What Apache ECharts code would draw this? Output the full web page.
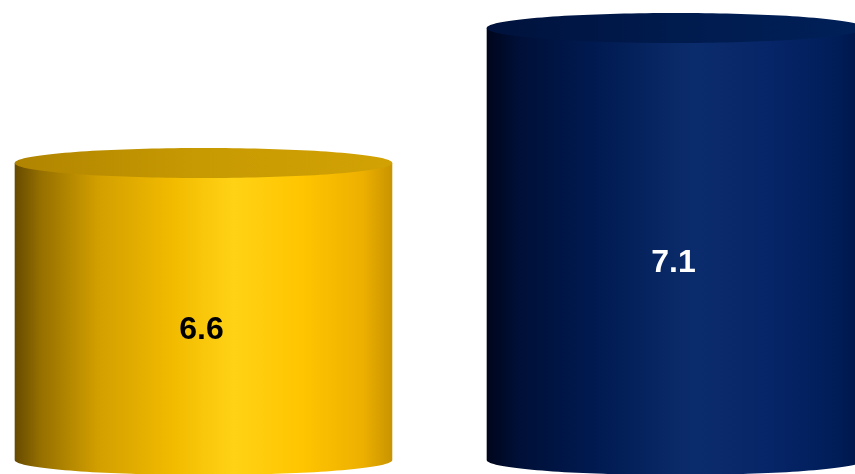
<!DOCTYPE html>
<html>
<head>
<meta charset="utf-8">
<script src="https://cdn.jsdelivr.net/npm/echarts@6/dist/echarts.min.js"></script>
<style>
html,body{margin:0;padding:0;background:#fff;}
#chart{width:855px;height:474px;}
</style>
</head>
<body>
<div id="chart"></div>
<script>
const categories = ['A', 'B'];
const values = [6.6, 7.1];
const labels = ['6.6', '7.1'];

const Y_MIN = 5.5, Y_MAX = 7.2;
const X_MIN = -0.4311, X_MAX = 1.3803;
const BAR_W = 0.8;

const palettes = [
  {
    body: [[0,'#664a00'],[0.07,'#967000'],[0.22,'#d29f00'],[0.42,'#f2bb00'],[0.58,'#ffd215'],[0.76,'#ffc500'],[0.92,'#eeb000'],[1,'#c89400']],
    top: [[0,'#b08400'],[0.5,'#c89a02'],[1,'#d2a204']],
    text: '#000000'
  },
  {
    body: [[0,'#00061c'],[0.08,'#000f36'],[0.28,'#001a50'],[0.55,'#0b2c6c'],[0.75,'#062568'],[0.93,'#001d58'],[1,'#001545']],
    top: [[0,'#00123c'],[0.5,'#001b4e'],[1,'#002058']],
    text: '#ffffff'
  }
];

function grad(stops) {
  return new echarts.graphic.LinearGradient(0, 0, 1, 0, stops.map(s => ({offset: s[0], color: s[1]})));
}

const chart = echarts.init(document.getElementById('chart'), null, {renderer: 'canvas'});
chart.setOption({
  animation: false,
  grid: {left: 0, right: 0, top: 1, bottom: 14, containLabel: false},
  xAxis: {type: 'value', min: X_MIN, max: X_MAX, show: false},
  yAxis: {type: 'value', min: Y_MIN, max: Y_MAX, show: false},
  series: [{
    type: 'custom',
    name: 'values',
    data: values.map((v, i) => [i, v]),
    clip: false,
    renderItem: function (params, api) {
      const i = params.dataIndex;
      const pal = palettes[i];
      const topPt = api.coord([api.value(0), api.value(1)]);
      const basePt = api.coord([api.value(0), Y_MIN]);
      const w = api.size([BAR_W, 0])[0];
      const cx = topPt[0], top = topPt[1], base = basePt[1];
      const rx = w / 2, ry = 15;
      const N = 80;
      const body = [[cx - rx, top], [cx + rx, top]];
      for (let k = 0; k <= N; k++) {
        const t = Math.PI * k / N;
        body.push([cx + rx * Math.cos(t), base + ry * Math.sin(t)]);
      }
      const ell = [];
      for (let k = 0; k < 2 * N; k++) {
        const t = Math.PI * k / N;
        ell.push([cx + rx * Math.cos(t), top + ry * Math.sin(t)]);
      }
      return {
        type: 'group',
        children: [
          {type: 'polygon', shape: {points: body}, style: {fill: grad(pal.body)}},
          {type: 'polygon', shape: {points: ell}, style: {fill: grad(pal.top)}},
          {type: 'text', x: cx - 2, y: (top + base) / 2 + 19,
            style: {text: labels[i], fill: pal.text, font: 'bold 32px "Liberation Sans", Arial, sans-serif', align: 'center', verticalAlign: 'middle'}}
        ]
      };
    }
  }]
});
</script>
</body>
</html>
